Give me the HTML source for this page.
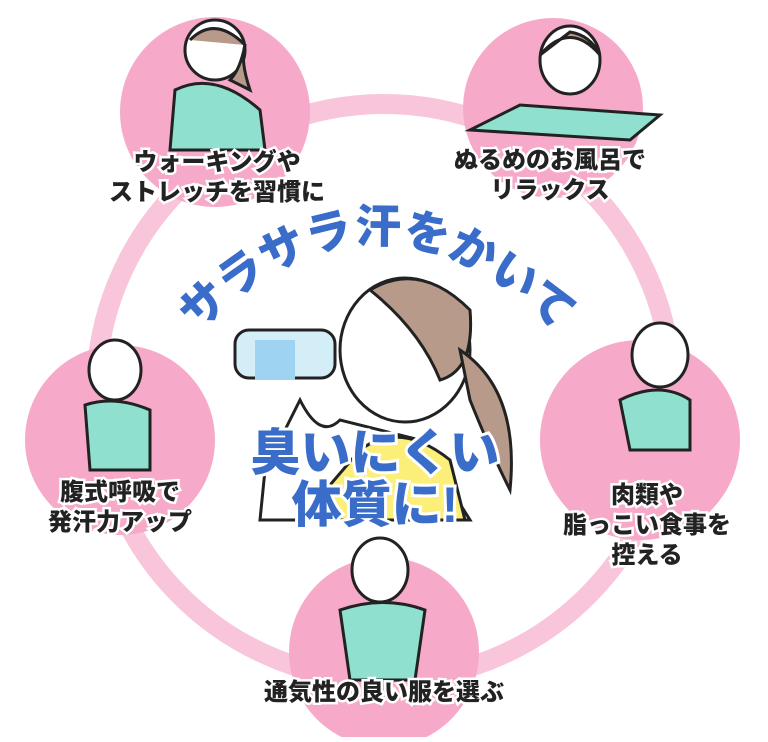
<!DOCTYPE html>
<html><head><meta charset="utf-8"><style>
body{margin:0;background:#fff;}
svg text{font-family:"Liberation Sans","Noto Sans CJK JP",sans-serif;font-weight:900;}
</style></head><body>
<svg width="768" height="737" viewBox="0 0 768 737" xmlns="http://www.w3.org/2000/svg">
<circle cx="384" cy="392" r="288" fill="none" stroke="#f9c5da" stroke-width="20"/>
<g fill="#f6a9c9">
<circle cx="215" cy="112" r="95"/>
<circle cx="553" cy="108" r="90"/>
<circle cx="640" cy="440" r="100"/>
<circle cx="384" cy="652" r="95"/>
<circle cx="120" cy="440" r="95"/>
</g>
<g stroke="#222" stroke-width="3">
<ellipse cx="215" cy="50" rx="30" ry="30" fill="#fff"/><path d="M190 40 Q215 15 245 45 Q240 70 230 80 L250 90 Q240 60 245 45" fill="#b89a8a"/>
<path d="M175 90 Q215 70 260 110 L265 150 L170 150Z" fill="#8fe0cf"/>
<ellipse cx="570" cy="60" rx="30" ry="34" fill="#fff"/><path d="M540 55 Q570 20 600 55 Q590 35 570 32Z" fill="#b89a8a"/>
<path d="M470 130 L520 105 L660 115 L630 140Z" fill="#8fe0cf"/>
<ellipse cx="660" cy="355" rx="28" ry="32" fill="#fff"/>
<path d="M620 400 Q660 380 690 400 L690 450 L630 450Z" fill="#8fe0cf"/>
<ellipse cx="380" cy="570" rx="28" ry="32" fill="#fff"/>
<path d="M340 610 Q384 595 425 610 L415 680 L350 680Z" fill="#8fe0cf"/>
<ellipse cx="115" cy="370" rx="26" ry="30" fill="#fff"/>
<path d="M85 405 Q115 395 150 410 L150 470 L90 470Z" fill="#8fe0cf"/>
<path d="M265 470 L300 400 Q320 440 340 420 L420 440 L470 520 L260 520Z" fill="#fff"/>
<path d="M360 450 Q400 420 450 460 L465 520 L300 520Z" fill="#fbef7a"/>
<ellipse cx="405" cy="350" rx="65" ry="72" fill="#fff"/>
<path d="M370 290 Q420 260 470 310 Q475 370 440 380 Q420 330 370 290Z" fill="#b89a8a"/>
<path d="M460 350 Q520 390 510 490 Q490 450 470 400Z" fill="#b89a8a"/>
<rect x="235" y="330" width="100" height="48" rx="14" fill="#d4eef8"/>
<rect x="255" y="340" width="40" height="40" fill="#9fd3f2" stroke="none"/>
</g>
<defs><path id="arc" d="M195 335 Q375 150 560 335"/></defs>
<text font-size="46" fill="#3a6dc9" stroke="#fff" stroke-width="6" paint-order="stroke"><textPath href="#arc" startOffset="50%" text-anchor="middle">サラサラ汗をかいて</textPath></text>
<g font-size="50" fill="#3a6dc9" stroke="#fff" stroke-width="6" paint-order="stroke" text-anchor="middle">
<text x="375" y="470">臭いにくい</text>
<text x="375" y="522">体質に!</text>
</g>
<g font-size="24" fill="#222" stroke="#fff" stroke-width="5" paint-order="stroke" text-anchor="middle">
<text x="217" y="170">ウォーキングや</text>
<text x="217" y="200">ストレッチを習慣に</text>
<text x="550" y="168">ぬるめのお風呂で</text>
<text x="550" y="198">リラックス</text>
<text x="647" y="503">肉類や</text>
<text x="647" y="533">脂っこい食事を</text>
<text x="647" y="563">控える</text>
<text x="120" y="500">腹式呼吸で</text>
<text x="120" y="530">発汗力アップ</text>
<text x="384" y="700">通気性の良い服を選ぶ</text>
</g>
</svg>
</body></html>
